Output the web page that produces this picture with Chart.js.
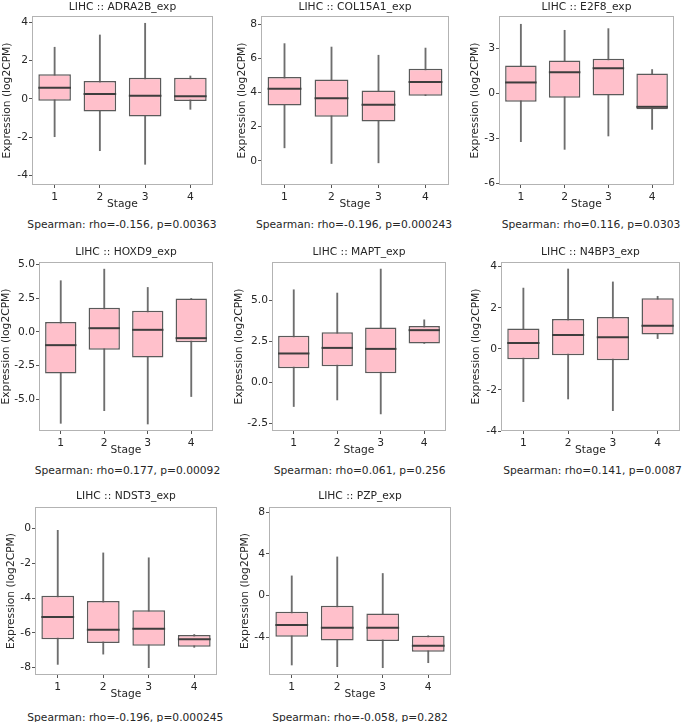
<!DOCTYPE html>
<html>
<head>
<meta charset="utf-8">
<script src="https://cdn.jsdelivr.net/npm/chart.js@4.4.1/dist/chart.umd.min.js"></script>
<style>
  html, body { margin: 0; padding: 0; background: #fff; }
  #stage { position: relative; width: 685px; height: 722px; overflow: hidden; }
  canvas { position: absolute; }
  .txt {
    position: absolute; white-space: pre; font-family: 'DejaVu Sans', sans-serif;
    font-size: 10.7px; line-height: 13px; color: #262626; transform: translateX(-50%);
  }
</style>
</head>
<body>
<div id="stage"></div>
<script>
// ---- data ----
var stages = ['1', '2', '3', '4'];
var genes = ['ADRA2B_exp', 'COL15A1_exp', 'E2F8_exp', 'HOXD9_exp', 'MAPT_exp', 'N4BP3_exp', 'NDST3_exp', 'PZP_exp'];
var rhoValues = ['-0.156', '-0.196', '0.116', '0.177', '0.061', '0.141', '-0.196', '-0.058'];
var pValues = ['0.00363', '0.000243', '0.0303', '0.00092', '0.256', '0.0087', '0.000245', '0.282'];

var whiskerLow = [
    [-1.97, -2.70, -3.41, -0.54],
    [0.76, -0.16, -0.12, 3.82],
    [-3.23, -3.74, -2.85, -2.41],
    [-6.80, -5.86, -6.85, -4.81],
    [-1.48, -1.08, -1.93, 2.36],
    [-2.57, -2.44, -3.01, 0.50],
    [-7.81, -7.22, -8.00, -6.83],
    [-6.67, -6.83, -6.93, -6.45]
];
var q1 = [
    [-0.09, -0.66, -0.92, -0.10],
    [3.24, 2.58, 2.30, 3.82],
    [-0.58, -0.31, -0.15, -1.08],
    [-3.10, -1.34, -1.91, -0.77],
    [0.85, 0.98, 0.55, 2.36],
    [-0.50, -0.31, -0.55, 0.70],
    [-6.37, -6.58, -6.74, -6.79],
    [-3.96, -4.31, -4.37, -5.39]
];
var median = [
    [0.59, 0.26, 0.17, 0.14],
    [4.23, 3.67, 3.28, 4.62],
    [0.71, 1.39, 1.66, -0.91],
    [-0.99, 0.27, 0.15, -0.47],
    [1.75, 2.09, 2.03, 3.17],
    [0.29, 0.68, 0.57, 1.12],
    [-5.09, -5.82, -5.76, -6.37],
    [-2.84, -3.10, -3.10, -4.82]
];
var q3 = [
    [1.29, 0.94, 1.11, 1.11],
    [4.92, 4.76, 4.12, 5.40],
    [1.84, 2.17, 2.28, 1.31],
    [0.74, 1.79, 1.56, 2.48],
    [2.83, 3.05, 3.33, 3.43],
    [0.99, 1.45, 1.55, 2.46],
    [-3.87, -4.17, -4.69, -6.12],
    [-1.56, -0.99, -1.72, -3.86]
];
var whiskerHigh = [
    [2.70, 3.34, 3.95, 1.20],
    [6.87, 6.67, 6.19, 6.61],
    [4.58, 4.18, 4.29, 1.57],
    [3.80, 4.66, 3.30, 2.48],
    [5.63, 5.43, 6.89, 3.80],
    [2.96, 3.89, 3.26, 2.56],
    [-0.10, -1.40, -1.68, -6.09],
    [1.88, 3.70, 2.11, -3.86]
];
var yMin = [-4.49, -1.42, -6.11, -7.37, -2.97, -4.0, -8.42, -7.63];
var yMax = [4.33, 8.49, 5.13, 5.19, 7.32, 4.23, 1.24, 8.49];
var yTicks = [
    [-4, -2, 0, 2, 4],
    [0, 2, 4, 6, 8],
    [-6, -3, 0, 3],
    [-5, -2.5, 0, 2.5, 5],
    [-2.5, 0, 2.5, 5],
    [-4, -2, 0, 2, 4],
    [-8, -6, -4, -2, 0],
    [-4, 0, 4, 8]
];
var tickDecimals = [0, 0, 0, 1, 1, 0, 0, 0];

// ---- layout: plot box left/top/right/bottom, y-label x, spearman x/y, title y ----
var panels = [
    [32, 16, 213, 185, 7, 122, 218, 0],
    [261, 16, 449, 185, 242.3, 354, 218, 0],
    [499, 16, 674, 185, 475, 591, 218, 0],
    [39, 262, 213, 431, 6.7, 127.5, 463.5, 244.5],
    [272, 262, 446, 431, 239.7, 359.7, 463.5, 244.5],
    [501, 262, 680, 431, 476.7, 592.5, 463.5, 244.5],
    [35, 507, 217, 675, 11.7, 125.3, 710.5, 489],
    [269, 507, 451, 675, 245.7, 360, 710.5, 489]
];

Chart.defaults.font.family = "'DejaVu Sans', sans-serif";
Chart.defaults.font.size = 10.7;
Chart.defaults.color = '#262626';

// frame around the plot area (all four spines)
var framePlugin = {
    id: 'frame',
    afterDraw: function(chart) {
        var a = chart.chartArea, ctx = chart.ctx;
        ctx.save();
        ctx.strokeStyle = '#b3b3b3';
        ctx.lineWidth = 1;
        ctx.strokeRect(a.left + 0.5, a.top + 0.5, a.right - a.left - 1, a.bottom - a.top - 1);
        ctx.restore();
    }
};

// median line across each box
var medianPlugin = {
    id: 'medianLine',
    afterDatasetsDraw: function(chart, args, opts) {
        var meta = chart.getDatasetMeta(0);
        var y = chart.scales.y, ctx = chart.ctx;
        ctx.save();
        ctx.strokeStyle = '#3d3d3d';
        ctx.lineWidth = 2;
        meta.data.forEach(function(bar, i) {
            var py = y.getPixelForValue(opts.values[i]);
            ctx.beginPath();
            ctx.moveTo(bar.x - bar.width / 2, py);
            ctx.lineTo(bar.x + bar.width / 2, py);
            ctx.stroke();
        });
        ctx.restore();
    }
};

var stageEl = document.getElementById('stage');

function addText(text, x, y) {
    var d = document.createElement('div');
    d.className = 'txt';
    d.textContent = text;
    d.style.left = x + 'px';
    d.style.top = y + 'px';
    stageEl.appendChild(d);
}

genes.forEach(function(gene, k) {
    var p = panels[k];
    var pl = p[0], pt = p[1], pr = p[2], pb = p[3];
    var cLeft = Math.round(p[4] - 6.4);
    var cTop = pt - 12;
    var cRight = pr + 4;
    var cBottom = pb + 26;

    var canvas = document.createElement('canvas');
    canvas.width = cRight - cLeft;
    canvas.height = cBottom - cTop;
    canvas.style.left = cLeft + 'px';
    canvas.style.top = cTop + 'px';
    stageEl.appendChild(canvas);

    addText('LIHC :: ' + gene, (pl + pr) / 2, p[7]);
    addText('Spearman: rho=' + rhoValues[k] + ', p=' + pValues[k], p[5], p[6]);

    var boxes = stages.map(function(s, i) { return [q1[k][i], q3[k][i]]; });
    var whiskers = stages.map(function(s, i) { return [whiskerLow[k][i], whiskerHigh[k][i]]; });
    var ticks = yTicks[k], dec = tickDecimals[k];

    new Chart(canvas.getContext('2d'), {
        type: 'bar',
        data: {
            labels: stages,
            datasets: [
                {
                    data: boxes,
                    backgroundColor: '#ffc0cb',
                    borderColor: '#5a5a5a',
                    borderWidth: 1.5,
                    borderSkipped: false,
                    barPercentage: 0.72,
                    categoryPercentage: 1,
                    grouped: false
                },
                {
                    data: whiskers,
                    backgroundColor: '#6e6e6e',
                    barThickness: 1.2,
                    grouped: false
                }
            ]
        },
        options: {
            responsive: false,
            animation: false,
            events: [],
            layout: { padding: { top: pt - cTop, right: cRight - pr, left: 0, bottom: 0 } },
            plugins: {
                legend: { display: false },
                tooltip: { enabled: false },
                medianLine: { values: median[k] }
            },
            scales: {
                x: {
                    type: 'category',
                    offset: true,
                    border: { display: false },
                    grid: { offset: false, drawOnChartArea: false, drawTicks: true, tickLength: 3, color: '#555' },
                    ticks: { padding: 3, color: '#262626', maxRotation: 0 },
                    title: { display: true, text: 'Stage', color: '#262626', padding: 0 },
                    afterFit: function(scale) { scale.height = cBottom - pb; }
                },
                y: {
                    min: yMin[k],
                    max: yMax[k],
                    border: { display: false },
                    grid: { drawOnChartArea: false, drawTicks: true, tickLength: 3, color: '#555' },
                    ticks: {
                        padding: 1,
                        color: '#262626',
                        callback: function(v) { return Number(v).toFixed(dec); }
                    },
                    afterBuildTicks: function(scale) {
                        scale.ticks = ticks.map(function(v) { return { value: v }; });
                    },
                    title: { display: true, text: 'Expression (log2CPM)', color: '#262626', padding: 0 },
                    afterFit: function(scale) { scale.width = pl - cLeft; }
                }
            }
        },
        plugins: [framePlugin, medianPlugin]
    });
});
</script>
</body>
</html>
